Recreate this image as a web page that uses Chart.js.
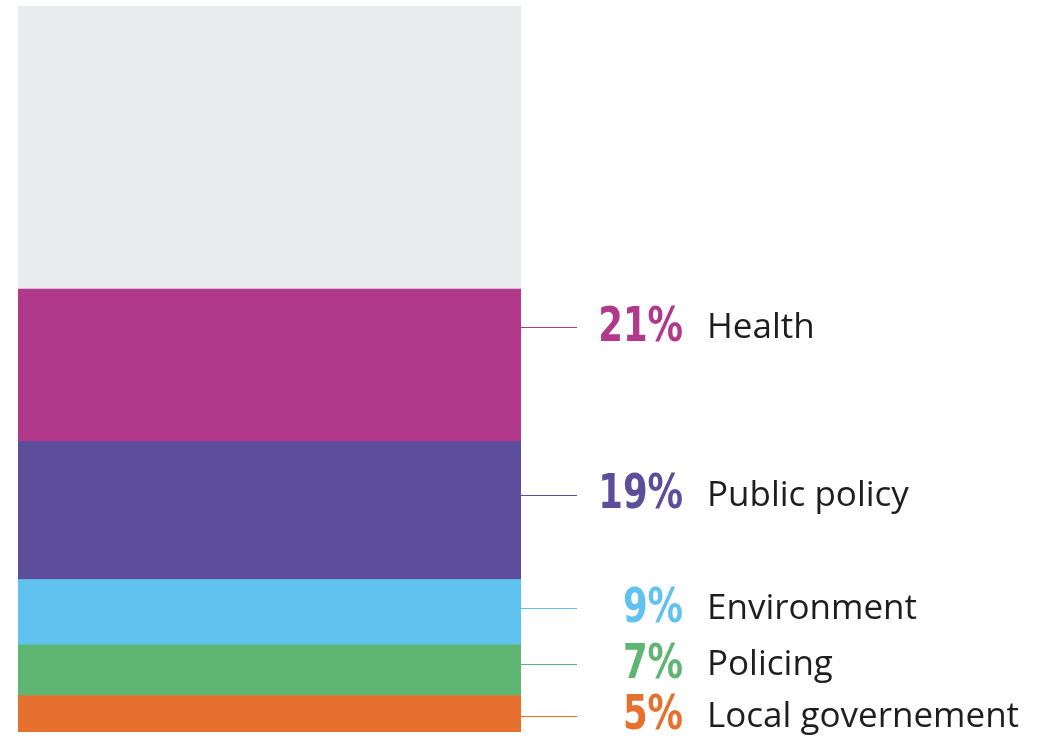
<!DOCTYPE html>
<html>
<head>
<meta charset="utf-8">
<script src="https://cdn.jsdelivr.net/npm/chart.js@4.4.1/dist/chart.umd.min.js"></script>
<style>
  html, body { margin: 0; padding: 0; background: #ffffff; }
  #wrap { width: 1045px; height: 741px; position: relative; }
</style>
</head>
<body>
<div id="wrap"><canvas id="c"></canvas></div>
<script>
// Data (bottom to top)
const categories = ['Local governement', 'Policing', 'Environment', 'Public policy', 'Health'];
const values = [5, 7, 9, 19, 21];
const otherLabel = 'Other';
const otherValue = 39;
const seriesColors = ['#E6702E', '#5FB672', '#60C2EF', '#5D4E9B', '#B0398B'];
const otherColor = '#EAEBED';

const datasets = categories.map((c, i) => ({
  label: c,
  data: [values[i]],
  backgroundColor: seriesColors[i],
  borderWidth: 0,
  stack: 's'
}));
datasets.push({ label: otherLabel, data: [otherValue], backgroundColor: otherColor, borderWidth: 0, stack: 's', isOther: true });

const labelPlugin = {
  id: 'sideLabels',
  afterDatasetsDraw(chart, args, opts) {
    const ctx = chart.ctx;
    const area = chart.chartArea;
    chart.data.datasets.forEach((ds, i) => {
      if (ds.isOther) return;
      const el = chart.getDatasetMeta(i).data[0];
      const y = (el.y + el.base) / 2 + (opts.offsets[i] || 0);
      const x0 = area.right;
      ctx.save();
      ctx.strokeStyle = ds.backgroundColor;
      ctx.lineWidth = 1;
      ctx.beginPath();
      ctx.moveTo(x0, Math.round(y) + 0.5);
      ctx.lineTo(x0 + 56, Math.round(y) + 0.5);
      ctx.stroke();
      ctx.textBaseline = 'middle';
      // condensed bold percentage
      ctx.save();
      ctx.translate(x0 + 162, y + 1);
      ctx.scale(0.82, 1);
      ctx.fillStyle = ds.backgroundColor;
      ctx.font = 'bold 48px "Liberation Sans Narrow", "DejaVu Sans Condensed", "Open Sans", sans-serif';
      ctx.textAlign = 'right';
      ctx.fillText(ds.data[0] + '%', 0, 0);
      ctx.restore();
      ctx.fillStyle = '#1e1e1e';
      ctx.font = '35px "Open Sans", "Noto Sans", sans-serif';
      ctx.textAlign = 'left';
      ctx.fillText(ds.label, x0 + 186, y + 1);
      ctx.restore();
    });
  }
};

new Chart(document.getElementById('c'), {
  type: 'bar',
  data: { labels: [''], datasets },
  options: {
    responsive: true,
    maintainAspectRatio: false,
    animation: false,
    layout: { padding: { left: 18, right: 524, top: 6, bottom: 9 } },
    plugins: {
      legend: { display: false },
      tooltip: { enabled: false },
      sideLabels: { offsets: [2, -6, -4, -16, -38] }
    },
    scales: {
      x: { stacked: true, display: false, grid: { display: false } },
      y: { stacked: true, display: false, min: 0, max: 100, grid: { display: false } }
    },
    datasets: { bar: { barPercentage: 1, categoryPercentage: 1 } }
  },
  plugins: [labelPlugin]
});
</script>
</body>
</html>
